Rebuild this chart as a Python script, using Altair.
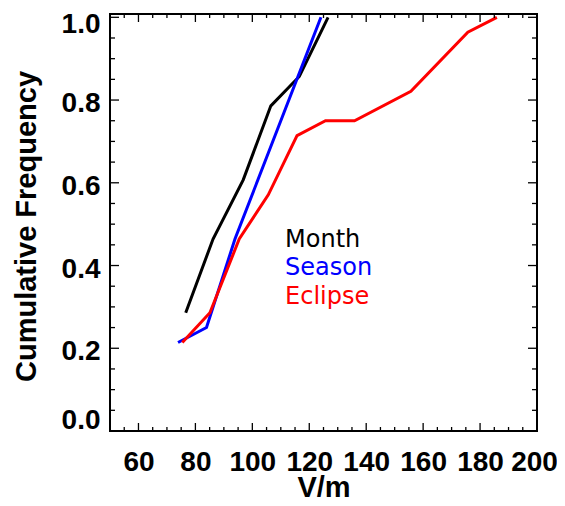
import altair as alt
import pandas as pd

# ---- data ----
month_x = [76.6, 86.2, 96.8, 106.5, 116.5, 126.6]
month_y = [0.286, 0.464, 0.607, 0.786, 0.857, 1.0]
season_x = [73.9, 83.9, 93.9, 124.1]
season_y = [0.214, 0.25, 0.464, 1.0]
eclipse_x = [75.4, 85.1, 95.4, 105.6, 115.7, 125.7, 135.9, 155.7, 175.7, 185.9]
eclipse_y = [0.214, 0.286, 0.464, 0.571, 0.714, 0.75, 0.75, 0.821, 0.964, 1.0]

series_names = ["Month", "Season", "Eclipse"]
series_colors = ["#000000", "#0000ff", "#ff0000"]
label_x = [111.5, 111.5, 111.5]
label_y = [0.444, 0.377, 0.308]

x_tick_labels = [60, 80, 100, 120, 140, 160, 180, 200]
x_minor_ticks = [55, 65, 70, 75, 85, 90, 95, 105, 110, 115, 125, 130, 135,
                 145, 150, 155, 165, 170, 175, 185, 190, 195]
y_tick_labels = [0.0, 0.2, 0.4, 0.6, 0.8, 1.0]
y_minor_ticks = [0.05, 0.1, 0.15, 0.25, 0.3, 0.35, 0.45, 0.5, 0.55,
                 0.65, 0.7, 0.75, 0.85, 0.9, 0.95]

W, H = 427, 417

rows = []
for name, xs_, ys_ in [("Month", month_x, month_y), ("Season", season_x, season_y),
                       ("Eclipse", eclipse_x, eclipse_y)]:
    for i, (a, b) in enumerate(zip(xs_, ys_)):
        rows.append({"s": name, "x": a, "y": b, "i": i})
df = pd.DataFrame(rows)

xs = alt.Scale(domain=[50, 200], nice=False, zero=False)
ys = alt.Scale(domain=[0, 1.008], nice=False, zero=False)
cs = alt.Scale(domain=series_names, range=series_colors)

x_axis = alt.Axis(
    values=x_tick_labels, format="d", title="V/m",
    labelBaseline="alphabetic", labelPadding=39, labelOverlap=False, labelFlush=False,
    labelOffset={"condition": {"test": "datum.value == 200", "value": -3}, "value": 0},
    titleBaseline="alphabetic", titleY=65, titleX=W / 2, titleAlign="center",
)
y_axis = alt.Axis(
    values=y_tick_labels, format=".1f", title="Cumulative Frequency",
    labelBaseline="alphabetic", labelPadding=10, labelOverlap=False, labelFlush=False,
    labelOffset={"condition": [{"test": "datum.value == 1", "value": 15},
                               {"test": "datum.value == 0", "value": -2.5}],
                 "value": 11.5},
    titleAngle=270, titleX=-75, titleY=212, titleBaseline="alphabetic", titleAlign="center",
)

X = alt.X("x:Q", scale=xs, axis=x_axis)
Y = alt.Y("y:Q", scale=ys, axis=y_axis)

lines = alt.Chart(df).mark_line(strokeWidth=3).encode(
    x=X, y=Y,
    color=alt.Color("s:N", scale=cs, legend=None),
    order="i:O",
)

labels = alt.Chart(pd.DataFrame({"s": series_names, "x": label_x, "y": label_y})).mark_text(
    align="left", baseline="alphabetic", font="DejaVu Sans", fontSize=24
).encode(
    x=X, y=Y,
    text="s:N",
    color=alt.Color("s:N", scale=cs, legend=None),
)


def xticks(vals, length):
    d = pd.DataFrame({"x": vals})
    base = alt.Chart(d).mark_rule(color="black", strokeWidth=1.3)
    bottom = base.encode(x=X, y=alt.value(H), y2=alt.value(H - length))
    top = base.encode(x=X, y=alt.value(0), y2=alt.value(length))
    return [bottom, top]


def yticks(vals, length):
    d = pd.DataFrame({"y": vals})
    base = alt.Chart(d).mark_rule(color="black", strokeWidth=1.3)
    left = base.encode(y=Y, x=alt.value(0), x2=alt.value(length))
    right = base.encode(y=Y, x=alt.value(W), x2=alt.value(W - length))
    return [left, right]


layers = [lines] + xticks(x_tick_labels, 8) + xticks(x_minor_ticks, 4) \
    + yticks(y_tick_labels, 9) + yticks(y_minor_ticks, 5) + [labels]

chart = alt.layer(*layers).properties(
    width=W, height=H,
    padding={"left": 102, "top": 6, "right": 20, "bottom": 67},
    autosize=alt.AutoSizeParams(type="none"),
).configure_view(
    stroke="black", strokeWidth=2
).configure_axis(
    domain=False, ticks=False, tickSize=0, grid=False,
    labelFont="Liberation Sans", labelFontWeight="bold", labelFontSize=28, labelColor="black",
    titleFont="Liberation Sans", titleFontWeight="bold", titleFontSize=29, titleColor="black",
)

chart.save("out.html", embed_options={"renderer": "svg", "actions": False})
